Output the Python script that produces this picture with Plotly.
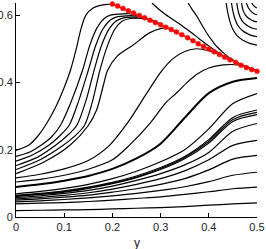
import plotly.graph_objects as go

# ---------------- data ----------------
x_grid = [0.0, 0.05, 0.10, 0.15, 0.20, 0.25, 0.30, 0.35, 0.40, 0.45, 0.50]

# lower family (start at x=0, end at x=0.5)
c1 = [0.019, 0.020, 0.021, 0.022, 0.024, 0.026, 0.028, 0.031, 0.035, 0.039, 0.042]
c2 = [0.039, 0.041, 0.043, 0.046, 0.050, 0.055, 0.060, 0.067, 0.075, 0.084, 0.089]
c3 = [0.045, 0.048, 0.052, 0.057, 0.063, 0.070, 0.079, 0.090, 0.105, 0.124, 0.133]
c4 = [0.050, 0.054, 0.059, 0.065, 0.074, 0.084, 0.097, 0.114, 0.140, 0.172, 0.183]
c5 = [0.054, 0.058, 0.064, 0.072, 0.083, 0.097, 0.114, 0.137, 0.170, 0.213, 0.228]
c6 = [0.058, 0.063, 0.070, 0.079, 0.092, 0.109, 0.129, 0.155, 0.192, 0.255, 0.278]
c7a = [0.064, 0.070, 0.078, 0.089, 0.103, 0.122, 0.147, 0.180, 0.230, 0.296, 0.318]
c7b = [0.062, 0.068, 0.076, 0.087, 0.101, 0.119, 0.144, 0.177, 0.225, 0.290, 0.311]
c7c = [0.061, 0.067, 0.074, 0.085, 0.099, 0.117, 0.141, 0.173, 0.220, 0.284, 0.304]
c8 = [0.069, 0.076, 0.085, 0.097, 0.114, 0.136, 0.164, 0.200, 0.262, 0.337, 0.367]
c9 = [0.089, 0.097, 0.108, 0.122, 0.143, 0.174, 0.218, 0.295, 0.368, 0.402, 0.413]

# curves that rise and merge into the envelope
l3_x = [0, 0.05, 0.10, 0.15, 0.20, 0.235, 0.277, 0.311, 0.334, 0.355, 0.376, 0.40, 0.43, 0.46, 0.48]
l3_y = [0.104, 0.112, 0.124, 0.142, 0.170, 0.213, 0.277, 0.340, 0.370, 0.400, 0.425, 0.443, 0.452, 0.452, 0.444]
l2_x = [0, 0.05, 0.10, 0.15, 0.194, 0.235, 0.27, 0.30, 0.325, 0.35, 0.375, 0.40, 0.42, 0.44]
l2_y = [0.116, 0.127, 0.143, 0.168, 0.213, 0.287, 0.365, 0.430, 0.470, 0.492, 0.500, 0.494, 0.484, 0.469]
l1_x = [0, 0.06, 0.112, 0.15, 0.167, 0.181, 0.19, 0.21, 0.243, 0.278, 0.312, 0.335]
l1_y = [0.129, 0.165, 0.213, 0.272, 0.317, 0.390, 0.436, 0.478, 0.511, 0.548, 0.562, 0.550]
s5_x = [0, 0.05, 0.098, 0.12, 0.142, 0.158, 0.174, 0.19, 0.205, 0.22, 0.237, 0.26, 0.285, 0.31]
s5_y = [0.141, 0.170, 0.213, 0.238, 0.272, 0.340, 0.436, 0.510, 0.558, 0.582, 0.590, 0.590, 0.584, 0.564]
s4_x = [0, 0.045, 0.082, 0.105, 0.126, 0.145, 0.162, 0.177, 0.192, 0.207, 0.223, 0.245, 0.265, 0.287]
s4_y = [0.153, 0.178, 0.213, 0.240, 0.272, 0.345, 0.436, 0.508, 0.556, 0.582, 0.592, 0.594, 0.591, 0.580]
s3_x = [0, 0.035, 0.068, 0.09, 0.110, 0.13, 0.150, 0.165, 0.18, 0.195, 0.209, 0.23, 0.255, 0.268]
s3_y = [0.166, 0.185, 0.213, 0.240, 0.272, 0.345, 0.436, 0.508, 0.558, 0.585, 0.595, 0.598, 0.597, 0.592]
s2_x = [0, 0.03, 0.052, 0.075, 0.092, 0.115, 0.138, 0.153, 0.168, 0.183, 0.196, 0.215, 0.235, 0.25]
s2_y = [0.180, 0.194, 0.213, 0.240, 0.272, 0.345, 0.436, 0.510, 0.562, 0.590, 0.600, 0.603, 0.604, 0.600]
s1_x = [0, 0.026, 0.045, 0.061, 0.08, 0.10, 0.113, 0.125, 0.135, 0.145, 0.16, 0.175, 0.19, 0.20]
s1_y = [0.198, 0.213, 0.240, 0.272, 0.320, 0.385, 0.436, 0.500, 0.560, 0.600, 0.621, 0.629, 0.632, 0.633]

# curves coming down from the top
t1_x = [0.282, 0.30, 0.32, 0.34, 0.36, 0.38, 0.40, 0.42, 0.44]
t1_y = [0.636, 0.613, 0.592, 0.573, 0.552, 0.530, 0.508, 0.488, 0.470]
t2_x = [0.357, 0.365, 0.376, 0.386, 0.396, 0.407, 0.417, 0.431, 0.445, 0.459, 0.472, 0.486, 0.5]
t2_y = [0.636, 0.618, 0.595, 0.570, 0.546, 0.524, 0.506, 0.487, 0.471, 0.460, 0.451, 0.443, 0.436]

# nested arcs, upper right
a1_x = [0.436, 0.439, 0.443, 0.449, 0.458, 0.470, 0.485, 0.5]
a1_y = [0.636, 0.610, 0.585, 0.560, 0.540, 0.526, 0.516, 0.511]
a2_x = [0.447, 0.450, 0.454, 0.460, 0.469, 0.480, 0.490, 0.5]
a2_y = [0.636, 0.612, 0.590, 0.570, 0.555, 0.545, 0.539, 0.536]
a3_x = [0.458, 0.461, 0.465, 0.472, 0.482, 0.491, 0.5]
a3_y = [0.636, 0.612, 0.594, 0.578, 0.567, 0.561, 0.558]
a4_x = [0.468, 0.471, 0.476, 0.484, 0.492, 0.5]
a4_y = [0.636, 0.615, 0.600, 0.589, 0.583, 0.580]
a5_x = [0.478, 0.482, 0.488, 0.494, 0.5]
a5_y = [0.636, 0.622, 0.611, 0.604, 0.601]
a6_x = [0.489, 0.493, 0.497, 0.5]
a6_y = [0.636, 0.628, 0.623, 0.621]

# red envelope
red_x = [0.200, 0.211, 0.222, 0.233, 0.244, 0.256, 0.267, 0.278, 0.289, 0.300,
         0.311, 0.322, 0.333, 0.344, 0.356, 0.367, 0.378, 0.389, 0.400, 0.411,
         0.422, 0.433, 0.444, 0.456, 0.467, 0.478, 0.489, 0.500]
red_y = [0.633, 0.627, 0.620, 0.613, 0.606, 0.599, 0.592, 0.585, 0.578, 0.571,
         0.564, 0.557, 0.550, 0.542, 0.533, 0.524, 0.515, 0.507, 0.499, 0.491,
         0.483, 0.475, 0.467, 0.459, 0.451, 0.444, 0.438, 0.433]

x_ticks = [0, 0.1, 0.2, 0.3, 0.4, 0.5]
x_tick_text = ["0", "0.1", "0.2", "0.3", "0.4", "0.5"]
y_ticks = [0, 0.2, 0.4, 0.6]
y_tick_text = ["0", "0.2", "0.4", "0.6"]
x_title = "y"

# ---------------- figure ----------------
fig = go.Figure()

def add_curve(xs, ys, width=1.2):
    fig.add_trace(go.Scatter(x=xs, y=ys, mode="lines",
                             line=dict(color="black", width=width, shape="spline", smoothing=0.8),
                             hoverinfo="skip"))

for cy in [c1, c2, c3, c4, c5, c6, c7a, c7b, c7c, c8]:
    add_curve(x_grid, cy)
add_curve(x_grid, c9, width=2.0)

for xs, ys in [(l3_x, l3_y), (l2_x, l2_y), (l1_x, l1_y), (s5_x, s5_y), (s4_x, s4_y),
               (s3_x, s3_y), (s2_x, s2_y), (s1_x, s1_y), (t1_x, t1_y), (t2_x, t2_y),
               (a1_x, a1_y), (a2_x, a2_y), (a3_x, a3_y), (a4_x, a4_y), (a5_x, a5_y), (a6_x, a6_y)]:
    add_curve(xs, ys)

fig.add_trace(go.Scatter(x=red_x, y=red_y, mode="lines+markers",
                         line=dict(color="#ff0000", width=1.5),
                         marker=dict(color="#ff0000", size=5, line=dict(color="#ff3030", width=0.5)),
                         cliponaxis=False, hoverinfo="skip"))

axis_font = dict(family="Liberation Sans, Arial, sans-serif", size=11, color="#222222")
fig.update_layout(
    width=266, height=249,
    margin=dict(l=16, r=9, t=3, b=32, autoexpand=False),
    plot_bgcolor="white", paper_bgcolor="white",
    showlegend=False,
    font=axis_font,
    hovermode=False,
    xaxis=dict(range=[0, 0.5], tickvals=x_ticks, ticktext=x_tick_text,
               ticks="inside", ticklen=4, tickcolor="black", automargin=False,
               showline=True, linecolor="black", linewidth=1,
               showgrid=False, zeroline=False, tickfont=axis_font),
    yaxis=dict(range=[0, 0.636], tickvals=y_ticks, ticktext=y_tick_text,
               ticks="inside", ticklen=4, tickcolor="black", automargin=False,
               showline=True, linecolor="black", linewidth=1,
               showgrid=False, zeroline=False, tickfont=axis_font),
    annotations=[dict(text=x_title, x=0.25, xref="x", y=-0.12, yref="paper",
                      xanchor="center", yanchor="middle", showarrow=False,
                      font=dict(family="Liberation Sans, Arial, sans-serif", size=12, color="#222222"))],
)

fig.write_html("out.html",
               config={"displayModeBar": False, "staticPlot": True},
               post_script="document.body.style.margin='0';document.body.style.overflow='hidden';")
